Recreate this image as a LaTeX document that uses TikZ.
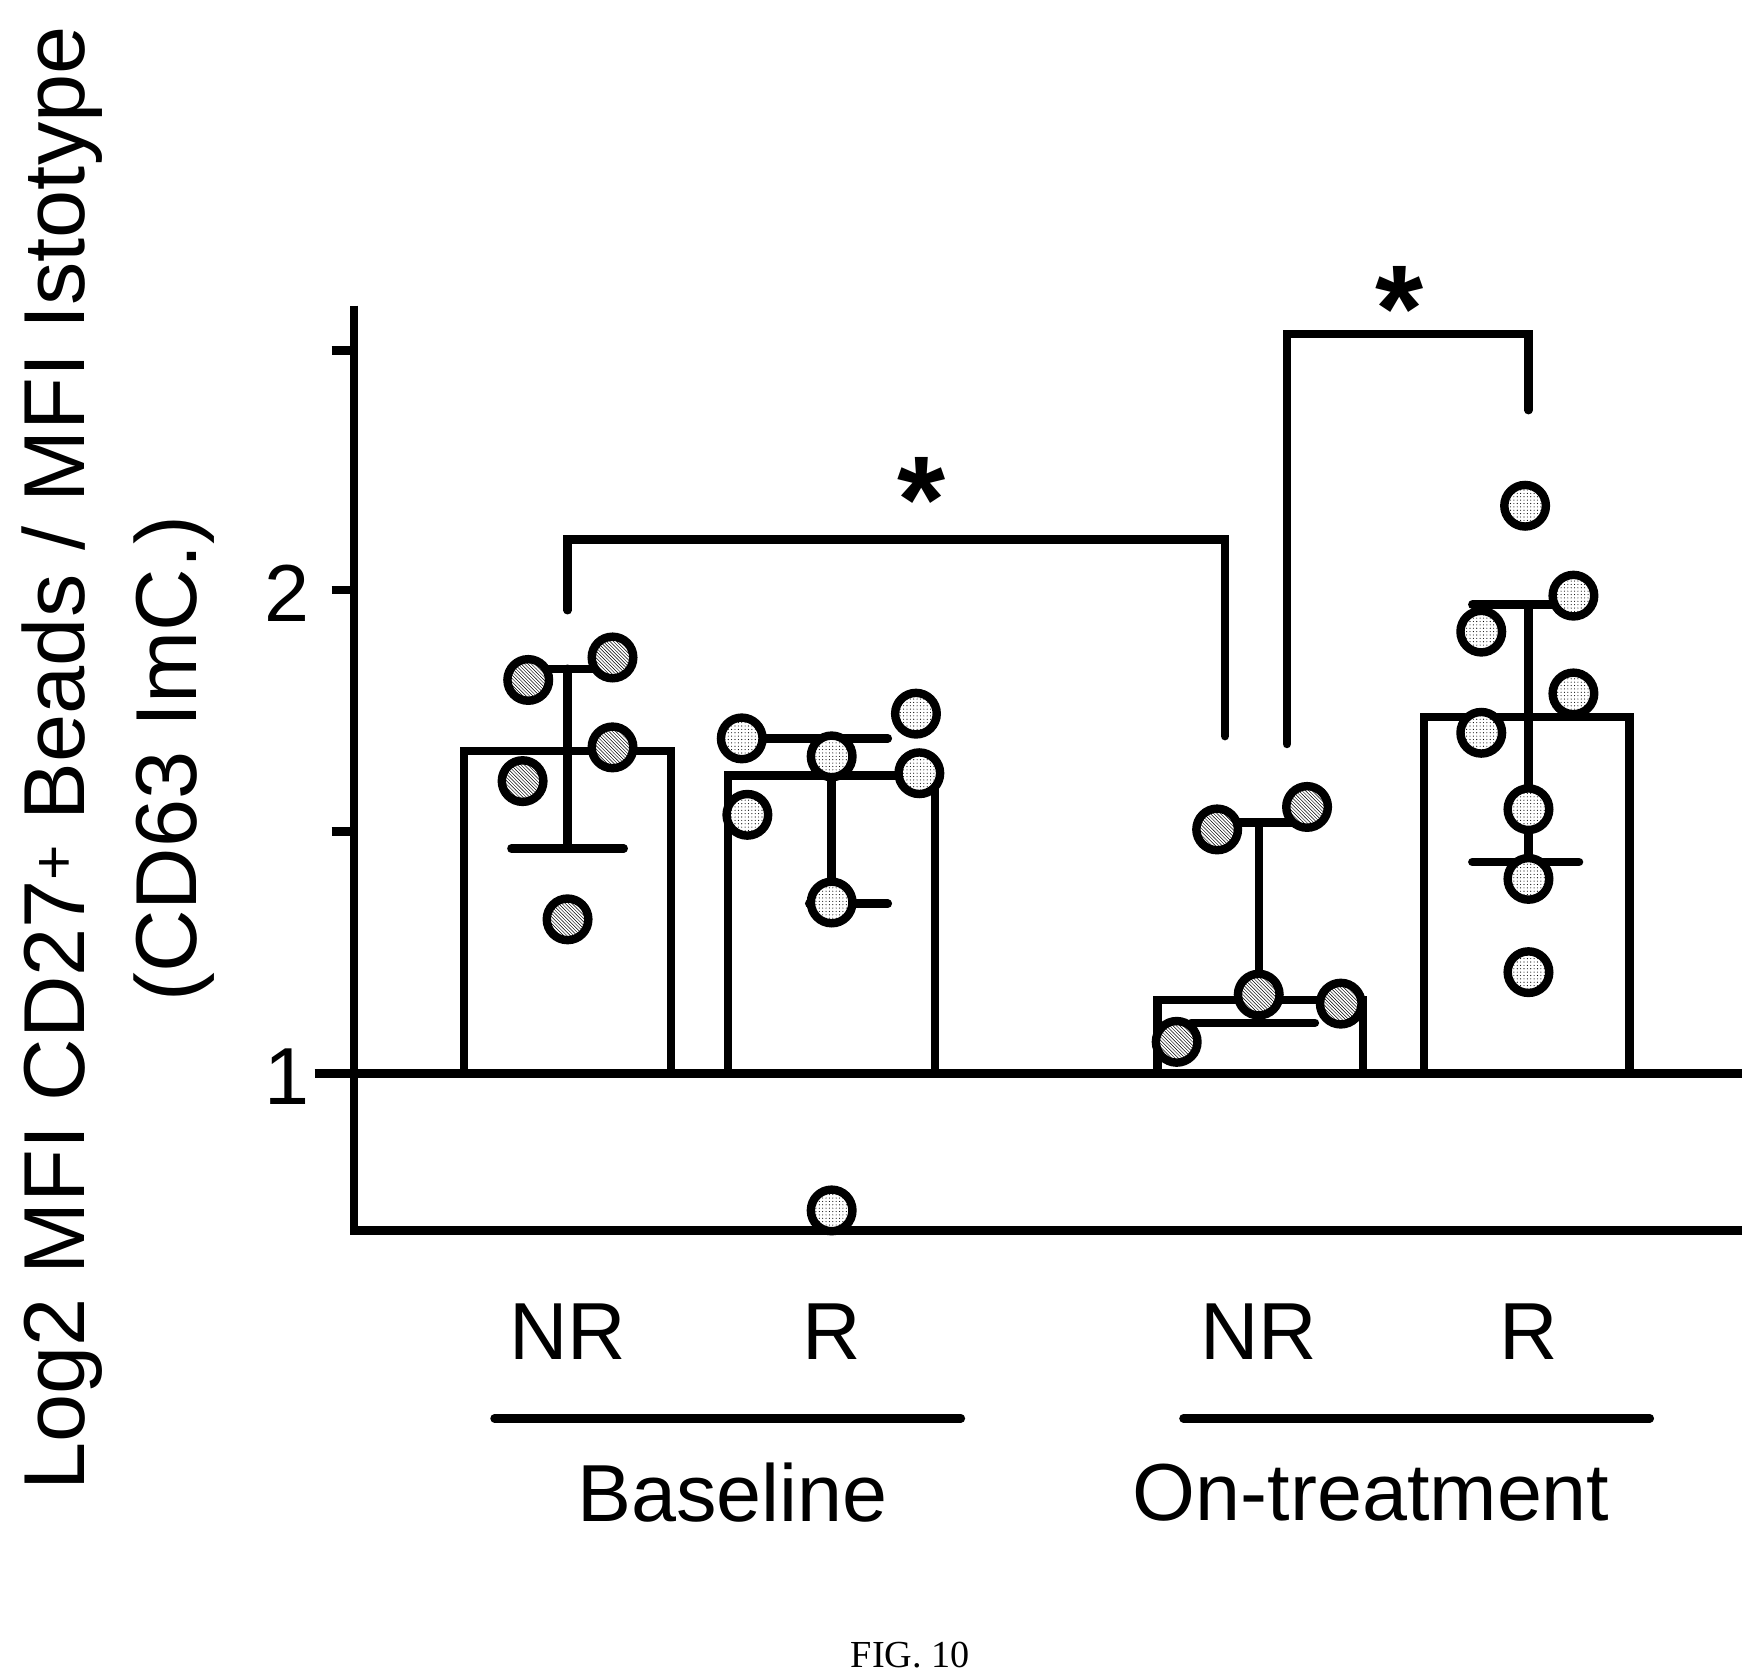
\documentclass[tikz,border=0pt]{standalone}
\usepackage{fontspec}
\setmainfont{Liberation Sans}
\newfontfamily\seriffont{Liberation Serif}
\usetikzlibrary{patterns}
\begin{document}
\begin{tikzpicture}[x=1pt,y=-1pt,line width=7.5pt,
  hdot/.style={draw,fill=white,postaction={pattern=north west lines}},
  pdot/.style={draw,fill=white,postaction={pattern=dots}},
  lbl/.style={font=\fontsize{72}{80}\selectfont,inner sep=0},
  ylbl/.style={font=\fontsize{77}{84}\selectfont,inner sep=0,rotate=90},
  star/.style={font=\fontsize{110}{110}\selectfont\bfseries,inner sep=0},
  capl/.style={line cap=round}]
\useasboundingbox (0,0) rectangle (1550,1492);
% axes
\draw (315,272) -- (315,1095) -- (1550,1095);
\foreach \yy in {312,525,740} \draw (295,\yy) -- (315,\yy);
\draw (280,955) -- (1550,955);
\node[lbl] (t2) at (255,528) {2};
\node[lbl] (t1) at (255,958) {1};
% bars
\draw[fill=white] (413,955) rectangle (597,668);
\draw[fill=white] (648,955) rectangle (832,690);
\draw[fill=white] (1030,955) rectangle (1213,890);
\draw[fill=white] (1267,955) rectangle (1450,638);
% error bars
\draw[capl] (505,595)--(505,755) (470,595)--(540,595) (455,755)--(555,755);
\draw[capl] (740,657)--(740,804) (655,657)--(790,657) (720,804)--(790,804);
\draw[capl] (1120,732)--(1120,910) (1085,732)--(1160,732) (1060,910)--(1170,910);
\draw[capl] (1360,538)--(1360,767) (1310,538)--(1400,538) (1310,767)--(1405,767);
% dots
\foreach \p in {(470,605),(545,585),(545,665),(465,695),(505,818),(1083,738),(1163,718),(1120,885),(1193,893),(1047,927)}
  \draw[hdot] \p circle (18.5);
\foreach \p in {(660,657),(815,635),(740,673),(818,688),(665,725),(740,803),(740,1077),(1357,450),(1400,530),(1318,562),(1400,617),(1318,652),(1360,720),(1360,782),(1360,865)}
  \draw[pdot] \p circle (18.5);
% brackets
\draw[capl] (505,543) -- (505,480) -- (1090,480) -- (1090,655);
\node[star] (s1) at (820,445) {*};
\draw[capl] (1145,662) -- (1145,297) -- (1360,297) -- (1360,365);
\node[star] (s2) at (1245,275) {*};
% x labels
\node[lbl] (a) at (505,1185) {NR};
\node[lbl] (b) at (740,1185) {R};
\node[lbl] (c) at (1120,1185) {NR};
\node[lbl] (d) at (1360,1185) {R};
\draw[capl] (440,1262) -- (855,1262);
\draw[capl] (1053,1262) -- (1468,1262);
\node[lbl] (g1) at (652,1328) {Baseline};
\node[lbl] (g2) at (1220,1328) {On-treatment};
\node[font=\seriffont\fontsize{34}{38}\selectfont] (fig) at (810,1473) {FIG. 10};
% y label
\node[ylbl] (yl1) at (55,675) {Log2 MFI CD27\textsuperscript{+} Beads / MFI Istotype};
\node[ylbl] (yl2) at (155,675) {(CD63 ImC.)};
\end{tikzpicture}
\end{document}
